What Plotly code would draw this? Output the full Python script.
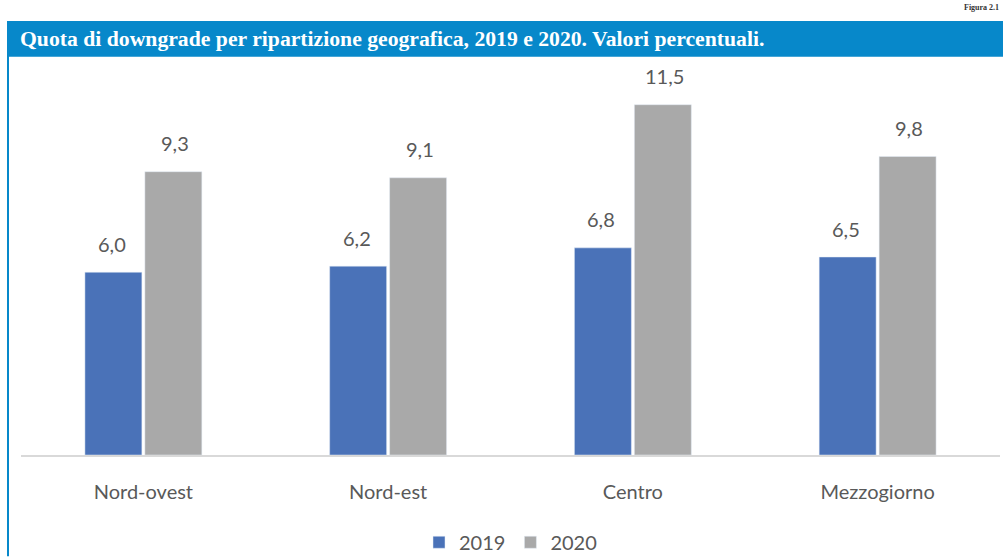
import plotly.graph_objects as go

categories = ["Nord-ovest", "Nord-est", "Centro", "Mezzogiorno"]
values_2019 = [6.0, 6.2, 6.8, 6.5]
values_2020 = [9.3, 9.1, 11.5, 9.8]
series_names = ["2019", "2020"]
title_text = "Quota di downgrade per ripartizione geografica, 2019 e 2020. Valori percentuali."

W = 1003
H_REF = 557
H = 565            # page captured at this height and fitted to 557
S = H / H_REF

ML, MR = 21, 3
MT = round(58 * S)
MB = H - round(455 * S)
PW = W - ML - MR
PH = H - MT - MB

def px_x(p):
    return (p - ML) / PW

def px_y(p):
    return (H - MB - p * S) / PH

C2019 = "#4A72B8"
C2020 = "#A9A9A9"
BLUE = "#0788CA"
TXT = "#595959"
FONT = "Lato"

def fmt(v):
    return f"{v:.1f}".replace(".", ",")

fig = go.Figure()
fig.add_trace(go.Bar(name=series_names[0], x=categories, y=values_2019, marker_color=C2019))
fig.add_trace(go.Bar(name=series_names[1], x=categories, y=values_2020, marker_color=C2020))

annotations = []
for c, v in zip(categories, values_2019):
    annotations.append(dict(x=c, y=v, xref="x", yref="y", text=fmt(v), showarrow=False,
                            xshift=-31.5, yshift=28 * S, font=dict(size=20, color=TXT, family=FONT)))
for c, v in zip(categories, values_2020):
    annotations.append(dict(x=c, y=v, xref="x", yref="y", text=fmt(v), showarrow=False,
                            xshift=31.5, yshift=28 * S, font=dict(size=20, color=TXT, family=FONT)))

annotations.append(dict(x=px_x(18), y=px_y(38), xref="paper", yref="paper", xanchor="left", yanchor="middle",
                        text="<b>" + title_text + "</b>", showarrow=False,
                        font=dict(size=21.7, color="white", family="Liberation Serif")))
annotations.append(dict(x=px_x(1001), y=px_y(0), xref="paper", yref="paper", xanchor="right", yanchor="top",
                        text="<b>Figura 2.1</b>", showarrow=False,
                        font=dict(size=8, color="#333333", family="Liberation Serif")))

shapes = [
    dict(type="rect", xref="paper", yref="paper", x0=px_x(7), x1=px_x(1003), y0=px_y(56), y1=px_y(20),
         fillcolor=BLUE, line=dict(width=0), layer="below"),
    dict(type="line", xref="paper", yref="paper", x0=px_x(8), x1=px_x(8), y0=px_y(20), y1=px_y(557),
         line=dict(color=BLUE, width=2)),
]

fig.update_layout(
    width=W, height=H,
    margin=dict(l=ML, r=MR, t=MT, b=MB),
    paper_bgcolor="white", plot_bgcolor="white",
    barmode="group", bargap=0.51, bargroupgap=0.05,
    font=dict(family=FONT, size=20, color=TXT),
    showlegend=True,
    legend=dict(orientation="h", x=0.5, xanchor="center", y=px_y(543), yanchor="middle",
                font=dict(size=20, color=TXT), itemwidth=30, traceorder="normal"),
    annotations=annotations,
    shapes=shapes,
)
fig.update_xaxes(showline=True, linecolor="#D9D9D9", linewidth=2, ticks="", showgrid=False,
                 tickfont=dict(size=20, color=TXT), ticklabelstandoff=18)
fig.update_yaxes(range=[0, 13], visible=False, showgrid=False)

post = (
    "var s=document.createElement('style');"
    "s.textContent='html,body{margin:0;padding:0;overflow:hidden;}';"
    "document.head.appendChild(s);"
)
fig.write_html("out.html", config={"displayModeBar": False}, post_script=post)
